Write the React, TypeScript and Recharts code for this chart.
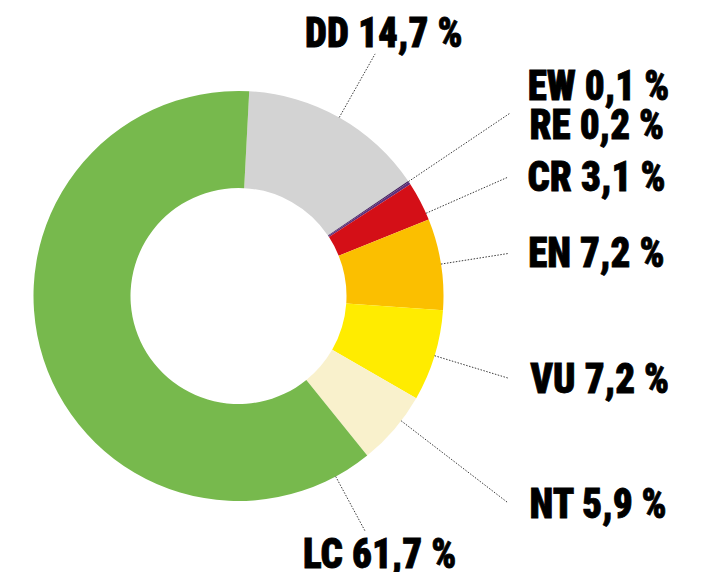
import { Cell, Pie, PieChart } from "recharts";

const categories = ["DD", "EW", "RE", "CR", "EN", "VU", "NT", "LC"];
const shares = [14.7, 0.1, 0.2, 3.1, 7.2, 7.2, 5.9, 61.7];
const colors = [
  "#d3d3d3",
  "#3f1d57",
  "#5e2f7c",
  "#d40f17",
  "#fbbf00",
  "#ffec00",
  "#f9f1cc",
  "#77b94d",
];

// leader line + text placement for each label (angle null = slice middle)
const labelLayout = [
  { angle: null, r: 278, dx: -70, dy: -7, line: true },
  { angle: null, r: 327, dx: 18, dy: -13, line: true },
  { angle: null, r: 327, dx: 18, dy: 23, line: false },
  { angle: 23.8, r: 294, dx: 20, dy: 14, line: true },
  { angle: null, r: 273, dx: 20, dy: 14, line: true },
  { angle: null, r: 282, dx: 22, dy: 15, line: true },
  { angle: -37.5, r: 339, dx: 22, dy: 16, line: true },
  { angle: -61.7, r: 267, dx: -62, dy: 37, line: true },
];

const data = categories.map((name, i) => ({ name, value: shares[i] }));

const RAD = Math.PI / 180;
const FONT =
  "'Liberation Sans Narrow', 'Roboto Condensed', 'Arial Narrow', 'DejaVu Sans Condensed', sans-serif";

function renderLabel(props: any) {
  const { cx, cy, midAngle, outerRadius, index, name, value } = props;
  const layout = labelLayout[index];
  const angle = layout.angle ?? midAngle;
  const cos = Math.cos(-angle * RAD);
  const sin = Math.sin(-angle * RAD);
  const sx = cx + outerRadius * cos;
  const sy = cy + outerRadius * sin;
  const ex = cx + layout.r * cos;
  const ey = cy + layout.r * sin;
  const text = `${name} ${String(value).replace(".", ",")} %`;
  const tx = ex + layout.dx;
  const ty = ey + layout.dy;
  return (
    <g key={`label-${index}`}>
      {layout.line && (
        <line
          x1={sx}
          y1={sy}
          x2={ex}
          y2={ey}
          stroke="#3a3a3a"
          strokeWidth={1}
          strokeDasharray="1.5 1.5"
        />
      )}
      <text
        x={0}
        y={0}
        transform={`translate(${tx},${ty}) scale(0.93,1)`}
        textAnchor="start"
        fill="#000"
        stroke="#000"
        strokeWidth={0.8}
        fontFamily={FONT}
        fontWeight={900}
        fontSize={42}
        style={{ fontStretch: "condensed" }}
      >
        {text}
      </text>
    </g>
  );
}

export default function App() {
  return (
    <div style={{ position: "fixed", left: 0, top: 0, background: "#fff" }}>
      <PieChart
        width={706}
        height={572}
        margin={{ top: 0, right: 0, bottom: 0, left: 0 }}
      >
        <Pie
          data={data}
          dataKey="value"
          nameKey="name"
          cx={238.5}
          cy={296}
          innerRadius={108}
          outerRadius={205}
          startAngle={87}
          endAngle={-273}
          stroke="none"
          label={renderLabel}
          labelLine={false}
          isAnimationActive={false}
        >
          {data.map((d, i) => (
            <Cell key={d.name} fill={colors[i]} />
          ))}
        </Pie>
      </PieChart>
    </div>
  );
}
